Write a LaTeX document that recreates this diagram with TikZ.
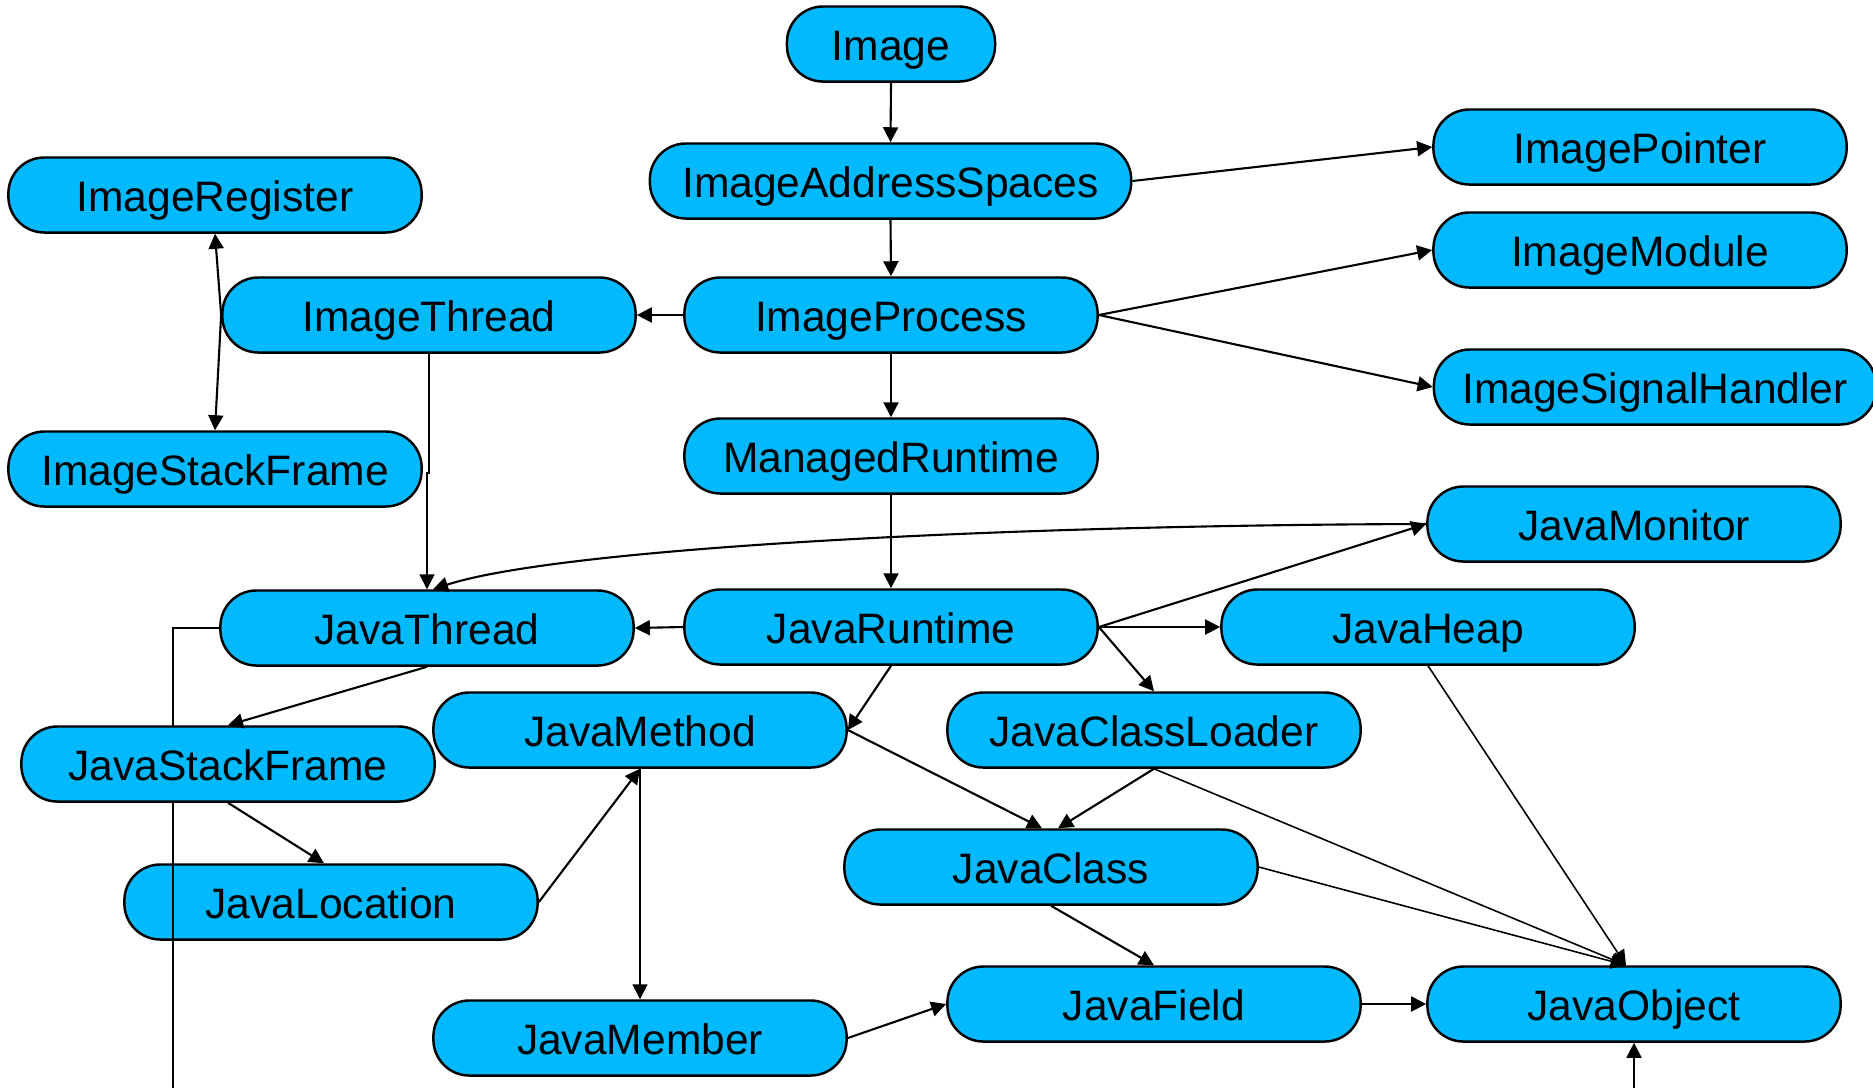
\documentclass[tikz,border=0pt]{standalone}
\usepackage{fontspec}
\setmainfont{Liberation Sans}
\usetikzlibrary{arrows.meta}
\definecolor{nodeblue}{RGB}{0,185,255}
\begin{document}
\begin{tikzpicture}[x=0.01cm,y=-0.01cm,
  cls/.style={draw=black, line width=0.7pt, fill=nodeblue,
    rounded corners=0.36cm, minimum height=0.75cm, minimum width=4.13cm,
    inner sep=0pt, text height=10pt, text depth=0.4pt,
    font=\fontsize{12.1}{14}\selectfont},
  rel/.style={line width=0.6pt, -{Triangle[length=0.15cm,width=0.15cm]}},
  thinrel/.style={rel, line width=0.45pt}]
\useasboundingbox (0,0) rectangle (1873,1087);
\clip (0,0) rectangle (1873,1087);

% image side
\node[cls, minimum width=2.08cm] (Image) at (891,44) {Image};
\node[cls, minimum width=4.81cm] (ImageAddressSpaces) at (890.5,181) {ImageAddressSpaces};
\node[cls] (ImagePointer) at (1640,147) {ImagePointer};
\node[cls] (ImageModule) at (1640,250) {ImageModule};
\node[cls, minimum width=4.42cm] (ImageSignalHandler) at (1655,387) {ImageSignalHandler};
\node[cls] (ImageRegister) at (215,195) {ImageRegister};
\node[cls] (ImageThread) at (429,315) {ImageThread};
\node[cls] (ImageProcess) at (891,315) {ImageProcess};
\node[cls] (ImageStackFrame) at (215,469) {ImageStackFrame};
\node[cls] (ManagedRuntime) at (891,456) {ManagedRuntime};

% java side
\node[cls] (JavaMonitor) at (1634,524) {JavaMonitor};
\node[cls] (JavaThread) at (427,628) {JavaThread};
\node[cls] (JavaRuntime) at (891,627) {JavaRuntime};
\node[cls] (JavaHeap) at (1428,627) {JavaHeap};
\node[cls] (JavaMethod) at (640,730) {JavaMethod};
\node[cls] (JavaClassLoader) at (1154,730) {JavaClassLoader};
\node[cls] (JavaLocation) at (331,902) {JavaLocation};
\node[cls] (JavaClass) at (1051,867) {JavaClass};
\node[cls] (JavaMember) at (640,1038) {JavaMember};
\node[cls] (JavaField) at (1154,1004) {JavaField};
\node[cls] (JavaObject) at (1634,1004) {JavaObject};

% thread to object link runs over JavaLocation, under JavaStackFrame
\draw[thinrel] (JavaThread.west) -| (173,1150) -| (JavaObject.south);
\node[cls] (JavaStackFrame) at (228,764) {JavaStackFrame};

\coordinate (objTop) at ([xshift=-0.08cm]JavaObject.north);

% connectors
\draw[rel] (Image.south) -- (ImageAddressSpaces.north);
\draw[rel] (ImageAddressSpaces.east) -- (ImagePointer.west);
\draw[rel] (ImageAddressSpaces.south) -- (ImageProcess.north);
\draw[rel] (ImageProcess.west) -- (ImageThread.east);
\draw[rel] (ImageProcess.east) -- (ImageModule.west);
\draw[rel] (ImageProcess.east) -- (ImageSignalHandler.west);
\draw[rel] (ImageProcess.south) -- (ManagedRuntime.north);
\draw[rel] (ImageThread.west) -- (ImageRegister.south);
\draw[rel] (ImageThread.west) -- (ImageStackFrame.north);
\draw[thinrel] (ImageThread.south) -- ++(0,119) -| (JavaThread.north);
\draw[rel] (JavaMonitor.west) .. controls (1000,525) and (560,548) .. ([xshift=0.06cm]JavaThread.north);
\draw[rel] (ManagedRuntime.south) -- (JavaRuntime.north);
\draw[rel] (JavaRuntime.west) -- (JavaThread.east);
\draw[rel] (JavaRuntime.east) -- (JavaMonitor.west);
\draw[rel] (JavaRuntime.east) -- (JavaHeap.west);
\draw[rel] (JavaRuntime.east) -- (JavaClassLoader.north);
\draw[rel] (JavaRuntime.south) -- (JavaMethod.east);
\draw[rel] (JavaThread.south) -- (JavaStackFrame.north);
\draw[rel] (JavaStackFrame.south) -- ([xshift=-0.07cm]JavaLocation.north);
\draw[rel] (JavaLocation.east) -- (JavaMethod.south);
\draw[thinrel] (JavaMethod.south) -- (JavaMember.north);
\draw[rel] (JavaMember.east) -- (JavaField.west);
\draw[rel] (JavaMethod.east) -- ([xshift=-0.09cm]JavaClass.north);
\draw[rel] (JavaClassLoader.south) -- ([xshift=0.07cm]JavaClass.north);
\draw[thinrel] (JavaClassLoader.south) -- (objTop);
\draw[thinrel] (JavaClass.east) -- (objTop);
\draw[thinrel] (JavaHeap.south) -- (objTop);
\draw[rel] (JavaClass.south) -- (JavaField.north);
\draw[rel] (JavaField.east) -- (JavaObject.west);
\end{tikzpicture}
\end{document}
